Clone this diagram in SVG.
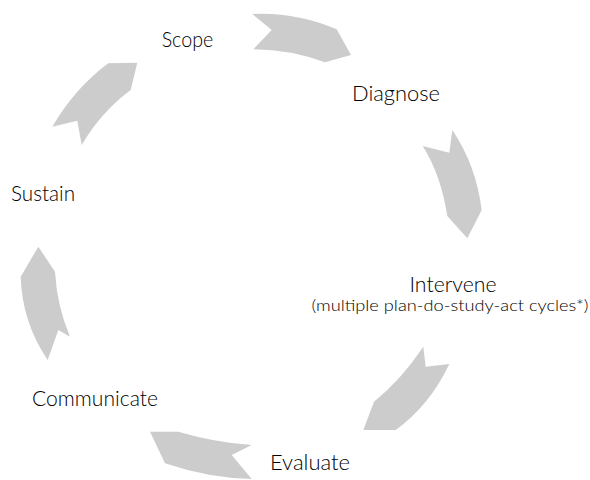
<svg xmlns="http://www.w3.org/2000/svg" width="590" height="480" viewBox="0 0 590 480">
<style>
.arr{fill:#cccccc;stroke:none}
.lbl{font-family:Lato,"Open Sans","Liberation Sans",sans-serif;font-weight:300;font-size:21px;fill:#000000;text-anchor:middle}
.sub{font-family:Lato,"Open Sans","Liberation Sans",sans-serif;font-weight:300;font-size:15.5px;fill:#000000;text-anchor:middle}
</style>
<rect width="590" height="480" fill="#ffffff"/>
<g id="connectors">
<path class="arr" d="M252.3,14 L271.7,30 L253.3,49.3 Q290,49.5 325,62.3 L351,55 L336.7,29.3 Q295,11.7 252.3,14 Z"/>
<path class="arr" d="M422.7,146 L449.3,152.7 L452.3,130 Q476,165 481.7,210 L467.3,238.3 L447.3,216 Q441,175 422.7,146 Z"/>
<path class="arr" d="M423.3,346.7 L425.7,366.7 L449.3,364 Q430,405 395.7,430 L363.3,430 L374,401.7 Q401,380 423.3,346.7 Z"/>
<path class="arr" d="M150,431.7 L178.3,431.7 Q215,442.5 251.7,445 L231.7,455 L251.7,479 Q208,478 165,463.3 Z"/>
<path class="arr" d="M38.3,246.7 L55,271.7 Q57,306 70,336.7 L58.3,330 L47.7,360 Q22,322 20.7,276.7 Z"/>
<path class="arr" d="M108.3,63.3 L137.3,62.7 L130.7,90 Q101,112 81.7,145 L77.3,120.7 L52.3,126.7 Q75,88 108.3,63.3 Z"/>
</g>
<g id="scope"><text class="lbl" x="187.5" y="47" textLength="51.6" lengthAdjust="spacingAndGlyphs">Scope</text></g>
<g id="diagnose"><text class="lbl" x="396" y="101" textLength="88" lengthAdjust="spacingAndGlyphs">Diagnose</text></g>
<g id="intervene"><text class="lbl" x="453" y="292" textLength="87" lengthAdjust="spacingAndGlyphs">Intervene</text><text class="sub" x="450" y="311" textLength="277" lengthAdjust="spacingAndGlyphs">(multiple plan-do-study-act cycles*)</text></g>
<g id="evaluate"><text class="lbl" x="310" y="470" textLength="80" lengthAdjust="spacingAndGlyphs">Evaluate</text></g>
<g id="communicate"><text class="lbl" x="95" y="406" textLength="126" lengthAdjust="spacingAndGlyphs">Communicate</text></g>
<g id="sustain"><text class="lbl" x="43" y="201" textLength="64" lengthAdjust="spacingAndGlyphs">Sustain</text></g>
</svg>
